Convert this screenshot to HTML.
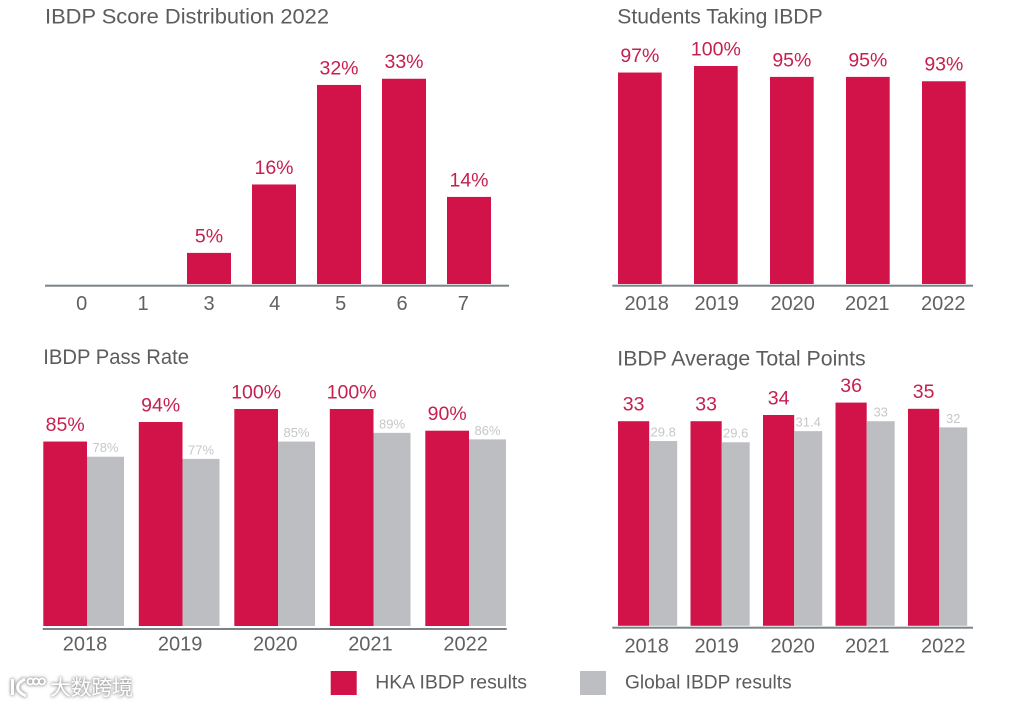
<!DOCTYPE html>
<html lang="en">
<head>
<meta charset="utf-8">
<title>IBDP Results Charts</title>
<style>
html,body{margin:0;padding:0;background:#fff;}
body{width:1022px;height:707px;overflow:hidden;}
svg{display:block;font-family:"Liberation Sans","Noto Sans CJK SC",sans-serif;}
.title{font-size:21px;fill:#5b5c5e;}
.tick{font-size:20px;fill:#606163;text-anchor:middle;}
.val-hka{font-size:19.5px;fill:#c5204f;text-anchor:middle;}
.val-global{font-size:13px;fill:#c6c7c9;text-anchor:middle;}
.legend-text{font-size:19px;fill:#5b5c5e;}
.wm{filter:drop-shadow(0 0 1.5px #999) drop-shadow(0 0 1px #bbb);}
</style>
</head>
<body>
<svg id="root" width="1022" height="707" viewBox="0 0 1022 707" xmlns="http://www.w3.org/2000/svg">
  <g id="chart-dist">
    <text class="title" x="45" y="23.3" textLength="284" lengthAdjust="spacingAndGlyphs">IBDP Score Distribution 2022</text>
  </g>
  <g id="chart-students">
    <text class="title" x="617.3" y="23.3" textLength="205.4" lengthAdjust="spacingAndGlyphs">Students Taking IBDP</text>
  </g>
  <g id="chart-pass">
    <text class="title" x="43.3" y="364" textLength="145.7" lengthAdjust="spacingAndGlyphs">IBDP Pass Rate</text>
  </g>
  <g id="chart-avg">
    <text class="title" x="617.3" y="365.7" textLength="248.4" lengthAdjust="spacingAndGlyphs">IBDP Average Total Points</text>
  </g>
  <g>
    <g>
      <rect x="330.7" y="671" width="26" height="24" fill="#d21349"></rect>
      <text class="legend-text" x="375.3" y="688.3" textLength="151.7" lengthAdjust="spacingAndGlyphs">HKA IBDP results</text>
    </g>
    <g>
      <rect x="580" y="671" width="26" height="24" fill="#bdbec1"></rect>
      <text class="legend-text" x="625" y="688.3" textLength="166.7" lengthAdjust="spacingAndGlyphs">Global IBDP results</text>
    </g>
  </g>
  <g class="wm">
    <g fill="none" stroke="#fff" stroke-width="3">
      <path d="M12.5 679 L12.5 695"></path>
      <path d="M25 679 C15 684 15 691 26 696"></path>
      <circle cx="30.5" cy="681.5" r="3" stroke-width="1.8"></circle>
      <circle cx="36" cy="681.5" r="3" stroke-width="1.8"></circle>
      <circle cx="42" cy="681.5" r="3" stroke-width="1.8"></circle>
    </g>
    <text x="50" y="695" font-size="21" fill="#fff" textLength="83">大数跨境</text>
  </g>
</svg>
<script>
// ---- chart data ----
const distCategories = ['0', '1', '3', '4', '5', '6', '7'];
const distValues = [null, null, 5, 16, 32, 33, 14];

const studentYears = ['2018', '2019', '2020', '2021', '2022'];
const studentValues = [97, 100, 95, 95, 93];

const passYears = ['2018', '2019', '2020', '2021', '2022'];
const passHka = [85, 94, 100, 100, 90];
const passGlobal = [78, 77, 85, 89, 86];

const avgYears = ['2018', '2019', '2020', '2021', '2022'];
const avgHka = [33, 33, 34, 36, 35];
const avgGlobal = [29.8, 29.6, 31.4, 33, 32];

// ---- layout (axis geometry, separate from the data) ----
const distLayout = {left: 57, step: 65, redW: 44, greyW: 0, base: 284, unit: 6.22, axisY: 285.7, axisX1: 45, axisX2: 509, tickY: 310, tickBase: 79, tickStep: 65, tickNudge: [2.7, -1, 0, 0.7, 1.7, -2, -5.7], suffix: '%'};
const studentLayout = {left: 618, step: 76, redW: 43.7, greyW: 0, base: 284, unit: 2.18, axisY: 285.7, axisX1: 612.3, axisX2: 973, tickY: 310, tickBase: 646.7, tickStep: 74.15, tickNudge: [0, -4.15, -2.3, -1.85, 0], suffix: '%'};
const passLayout = {left: 43.3, step: 95.5, redW: 43.7, greyW: 37, base: 626, unit: 2.17, axisY: 629, axisX1: 42.7, axisX2: 506.7, tickY: 650.7, tickBase: 85, tickStep: 95.15, tickNudge: [0, 0, 0, 0, 0], suffix: '%'};
const avgLayout = {left: 618, step: 72.5, redW: 31.2, greyW: 28, base: 625.8, unit: 6.2, axisY: 627.7, axisX1: 612.3, axisX2: 973, tickY: 652.3, tickBase: 646.7, tickStep: 74.15, tickNudge: [0, -4.15, -2.3, -1.85, 0], suffix: ''};

const SVG_NS = 'http://www.w3.org/2000/svg';
const RED = '#d21349';
const GREY = '#bdbec1';

function xScale(layout, i) {
  return layout.left + layout.step * i;
}
function barHeight(layout, v) {
  return v * layout.unit;
}
function yScale(layout, v) {
  return layout.base - barHeight(layout, v);
}
function makeRect(x, y, w, h, fill) {
  const r = document.createElementNS(SVG_NS, 'rect');
  r.setAttribute('x', x);
  r.setAttribute('y', y);
  r.setAttribute('width', w);
  r.setAttribute('height', h);
  r.setAttribute('fill', fill);
  return r;
}
function makeText(cls, x, y, str) {
  const t = document.createElementNS(SVG_NS, 'text');
  t.setAttribute('class', cls);
  t.setAttribute('x', x);
  t.setAttribute('y', y);
  t.textContent = str;
  return t;
}

function drawChart(groupId, layout, cats, hka, globalVals) {
  const g = document.getElementById(groupId);
  cats.forEach(function (cat, i) {
    const v = hka[i];
    const x = xScale(layout, i);
    if (v !== null) {
      const bar = makeRect(x, yScale(layout, v), layout.redW, barHeight(layout, v), RED);
      
      
      g.appendChild(bar);
      const lab = makeText('val-hka', x + layout.redW / 2, yScale(layout, v) - 10.6, v + layout.suffix);
      
      
      g.appendChild(lab);
    }
    if (globalVals) {
      const gv = globalVals[i];
      const gx = x + layout.redW;
      const gbar = makeRect(gx, yScale(layout, gv), layout.greyW, barHeight(layout, gv), GREY);
      
      
      g.appendChild(gbar);
      const glab = makeText('val-global', gx + layout.greyW / 2, yScale(layout, gv) - 4.6, gv + layout.suffix);
      
      
      g.appendChild(glab);
    }
    const tick = makeText('tick', layout.tickBase + layout.tickStep * i + layout.tickNudge[i], layout.tickY, cat);
    
    
    g.appendChild(tick);
  });
  const axis = makeRect(layout.axisX1, layout.axisY - 1, layout.axisX2 - layout.axisX1, 2, '#7c8287');
  
  
  g.appendChild(axis);
}

drawChart('chart-dist', distLayout, distCategories, distValues, null);
drawChart('chart-students', studentLayout, studentYears, studentValues, null);
drawChart('chart-pass', passLayout, passYears, passHka, passGlobal);
drawChart('chart-avg', avgLayout, avgYears, avgHka, avgGlobal);
</script>
</body>
</html>
